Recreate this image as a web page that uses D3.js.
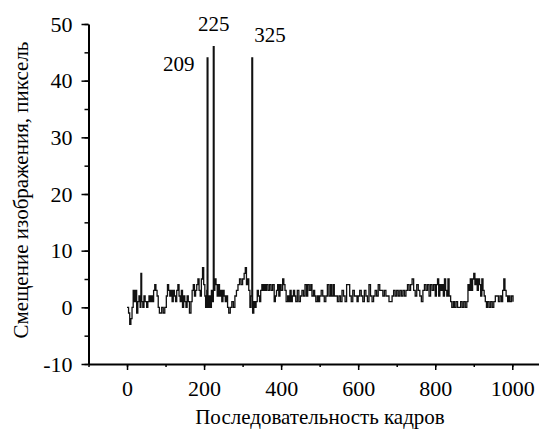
<!DOCTYPE html>
<html>
<head>
<meta charset="utf-8">
<script src="https://cdn.jsdelivr.net/npm/d3@7"></script>
</head>
<body style="margin:0;background:#fff">
<div id="chart"></div>
<script>
// frame number where a value starts, and the image shift (px) held from that frame
var frames = [0,4,7,10,13,16,19,22,25,28,31,34,36,38,41,44,47,51,54,57,60,63,66,69,72,75,78,81,84,90,94,98,
  102,105,108,111,114,117,120,123,126,129,132,135,138,141,144,147,150,153,156,159,162,166,169,172,175,178,181,184,187,190,193,196,199,202,
  204,207,208,210,213,216,219,222,224,226,228,231,234,237,240,243,246,249,252,255,258,261,264,268,272,276,280,284,288,292,296,300,
  304,307,310,313,316,319,322,324,326,329,332,335,338,341,344,347,350,353,356,359,362,366,370,374,378,382,385,388,391,394,397,400,
  404,407,410,413,417,420,423,426,429,432,435,438,442,446,450,454,458,462,466,469,473,477,480,484,487,490,494,497,
  500,504,508,512,516,520,524,528,531,535,538,546,550,554,558,562,566,570,578,582,586,590,597,
  600,604,608,612,616,620,624,628,632,636,640,644,648,652,656,664,668,672,680,688,692,696,700,
  704,708,712,716,720,724,728,732,736,740,744,748,752,756,760,764,768,772,776,780,784,788,792,796,800,
  803,806,809,812,815,818,821,824,827,830,833,836,840,843,847,850,854,858,866,870,874,878,882,885,888,891,894,897,900,903,906,909,912,915,918,921,924,
  927,930,933,936,940,944,948,952,956,964,968,972,975,978,981,984,988,991,994,998,1002];
var shift = [0,-1,-3,-2,0,3,1,3,-1,1,2,0,6,1,0,2,1,0,1,2,1,2,1,3,4,3,2,0,-1,0,-1,0,
  2,4,3,2,3,1,3,2,1,3,4,2,1,3,0,2,1,0,2,1,-1,1,3,4,2,3,4,5,3,2,5,7,4,2,
  0,3,44,0,2,0,3,1,46,3,5,4,2,4,2,3,1,3,2,1,2,0,-1,0,1,0,2,3,4,5,4,5,
  6,7,4,5,3,0,2,44,-1,1,0,1,3,2,1,3,4,3,4,3,4,3,4,3,4,1,2,3,4,2,4,3,
  5,4,3,1,2,1,3,1,2,3,2,1,3,1,2,3,2,4,2,4,3,4,2,3,2,1,2,1,
  2,3,2,1,2,4,2,4,2,4,2,1,2,1,3,2,1,4,2,1,3,2,1,
  2,3,2,1,3,2,1,4,2,1,2,3,2,4,3,2,3,2,1,2,3,2,3,
  2,3,2,3,2,3,4,3,4,5,3,2,4,3,2,1,3,4,3,4,2,4,3,4,2,
  4,5,2,4,3,4,2,5,3,2,5,2,1,0,1,0,1,0,1,0,1,0,1,4,3,5,3,5,6,4,5,3,5,4,2,5,3,
  2,1,0,1,0,1,0,1,2,1,2,1,3,5,3,2,1,2,1,2,1];
var peaks = [209, 225, 325];
var peakLabels = ['209', '225', '325'];
var xTicks = [0, 200, 400, 600, 800, 1000];
var yTicks = [-10, 0, 10, 20, 30, 40, 50];

var font = "'Liberation Serif', 'Times New Roman', Tinos, serif";
var width = 539, height = 431;
var svg = d3.select('#chart').append('svg')
    .attr('width', width)
    .attr('height', height);

var x = d3.scaleLinear().domain([-100, 1100]).range([88.5, 550.8]);
var y = d3.scaleLinear().domain([-10, 50]).range([364, 24]);

// minor ticks first, then major
svg.append('g').attr('transform', 'translate(0,364)')
    .call(d3.axisBottom(x).tickValues(d3.range(-100, 1101, 100)).tickSize(3).tickSizeOuter(0).tickFormat(''))
    .call(g => g.select('.domain').remove());
svg.append('g').attr('transform', 'translate(88.5,0)')
    .call(d3.axisLeft(y).tickValues(d3.range(-10, 51, 5)).tickSize(4).tickSizeOuter(0).tickFormat(''))
    .call(g => g.select('.domain').remove());

var xAxis = svg.append('g').attr('transform', 'translate(0,364)')
    .call(d3.axisBottom(x).tickValues(xTicks).tickSize(6).tickSizeOuter(0).tickPadding(10).tickFormat(d => String(d)));
var yAxis = svg.append('g').attr('transform', 'translate(88.5,0)')
    .call(d3.axisLeft(y).tickValues(yTicks).tickSize(7).tickSizeOuter(0).tickPadding(9).tickFormat(d => String(d)));

svg.selectAll('.domain').attr('stroke', '#000').attr('stroke-width', 2);
svg.selectAll('.tick line').attr('stroke', '#000').attr('stroke-width', 1.5);
svg.selectAll('.tick text').attr('font-size', 22).attr('fill', '#000');

// the trace
var line = d3.line()
    .x((d, i) => x(frames[i]))
    .y(d => y(d))
    .curve(d3.curveStepAfter);
svg.append('path')
    .datum(shift)
    .attr('fill', 'none')
    .attr('stroke', '#111')
    .attr('stroke-width', 1.3)
    .attr('d', line);

// peak labels
var labelPos = [{dx: -13, y: 44, anchor: 'end'}, {dx: 0, y: 46, anchor: 'middle'}, {dx: 2, y: 44, anchor: 'start'}];
svg.selectAll('.peak').data(peaks).enter().append('text')
    .attr('class', 'peak')
    .attr('x', (d, i) => x(d) + labelPos[i].dx)
    .attr('y', (d, i) => y(labelPos[i].y) - (i == 0 ? -13 : 16))
    .attr('text-anchor', (d, i) => labelPos[i].anchor)
    .attr('font-size', 21)
    .text((d, i) => peakLabels[i]);

// axis titles
svg.append('text')
    .attr('x', 320).attr('y', 424)
    .attr('text-anchor', 'middle')
    .attr('font-size', 21)
    .text('Последовательность кадров');
svg.append('text')
    .attr('transform', 'translate(28,190)rotate(-90)')
    .attr('text-anchor', 'middle')
    .attr('font-size', 21)
    .text('Смещение изображения, пиксель');

// serif face on every label
svg.selectAll('text').style('font-family', font, 'important');
svg.selectAll('g').attr('font-family', null);
</script>
</body>
</html>
